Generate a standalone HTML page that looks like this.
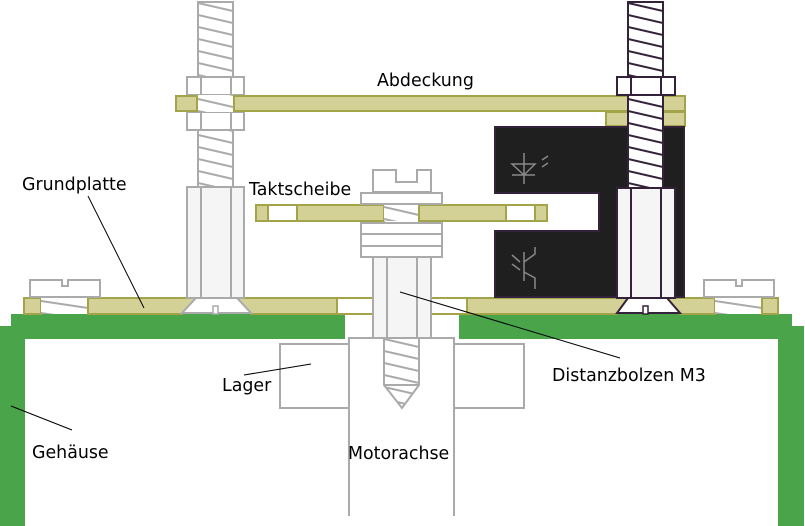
<!DOCTYPE html>
<html><head><meta charset="utf-8"><style>
html,body{margin:0;padding:0;background:#fff;}
svg{display:block;}
text{font-family:"DejaVu Sans","Liberation Sans",sans-serif;font-size:17.4px;fill:#000;}
</style></head><body>
<svg width="805" height="526" viewBox="0 0 805 526" xmlns="http://www.w3.org/2000/svg">
<defs>
<pattern id="thrA" x="198" y="0" width="35" height="12" patternUnits="userSpaceOnUse">
<rect width="35" height="12" fill="#fff"/>
<line x1="0" y1="3" x2="35" y2="11" stroke="#aaa" stroke-width="2"/>
</pattern>
<pattern id="thrC" x="384" y="0" width="35" height="12" patternUnits="userSpaceOnUse">
<rect width="35" height="12" fill="#fff"/>
<line x1="0" y1="3" x2="35" y2="11" stroke="#aaa" stroke-width="2"/>
</pattern>
<pattern id="thrL" x="41" y="298" width="47" height="12" patternUnits="userSpaceOnUse">
<rect width="47" height="12" fill="#fff"/>
<line x1="0" y1="3" x2="47" y2="10" stroke="#aaa" stroke-width="2"/>
</pattern>
<pattern id="thrR" x="715" y="298" width="47" height="12" patternUnits="userSpaceOnUse">
<rect width="47" height="12" fill="#fff"/>
<line x1="0" y1="3" x2="47" y2="10" stroke="#aaa" stroke-width="2"/>
</pattern>
<pattern id="thrd" x="628" y="0" width="35" height="12" patternUnits="userSpaceOnUse">
<rect width="35" height="12" fill="#fff"/>
<line x1="0" y1="3" x2="35" y2="11" stroke="#33223a" stroke-width="2"/>
</pattern>
</defs>
<g stroke-width="2">
<rect x="11" y="314" width="334" height="25" fill="#4aa54a"/>
<rect x="0" y="326" width="25" height="200" fill="#4aa54a"/>
<rect x="459" y="314" width="333" height="25" fill="#4aa54a"/>
<rect x="778" y="326" width="26" height="200" fill="#4aa54a"/>

<rect x="280" y="344" width="69" height="64" fill="#fff" stroke="#aaa"/>
<rect x="454" y="344" width="70" height="64" fill="#fff" stroke="#aaa"/>
<path d="M349 516 V338 H454 V516" fill="#fff" stroke="#aaa"/>
<path d="M384 338 V385 L402 408 L419 385 V338 Z" fill="url(#thrC)" stroke="#aaa"/>
<line x1="384" y1="385" x2="419" y2="385" stroke="#aaa"/>

<rect x="24" y="298" width="17" height="16" fill="#d4d197" stroke="#a3a34a"/>
<rect x="41" y="298" width="47" height="16" fill="url(#thrL)"/>
<path d="M88 298 H196 L182 314 H88 Z" fill="#d4d197" stroke="#a3a34a"/>
<path d="M237 298 H337 V314 H251 Z" fill="#d4d197" stroke="#a3a34a"/>
<rect x="337" y="298" width="130" height="16" fill="#fff" stroke="#a3a34a"/>
<path d="M467 298 H628 L617 314 H467 Z" fill="#d4d197" stroke="#a3a34a"/>
<path d="M667 298 H715 V314 H680 Z" fill="#d4d197" stroke="#a3a34a"/>
<rect x="715" y="298" width="47" height="16" fill="url(#thrR)"/>
<rect x="762" y="298" width="16" height="16" fill="#d4d197" stroke="#a3a34a"/>
<path d="M30 297 V280 H62 V286 H68 V280 H100 V297 Z" fill="#fff" stroke="#aaa"/>
<path d="M704 297 V280 H736 V286 H742 V280 H774 V297 Z" fill="#fff" stroke="#aaa"/>
<path d="M196 298 H237 L251 313 H182 Z" fill="#fff" stroke="#aaa"/>
<rect x="213" y="306" width="5" height="8" fill="#fff" stroke="#aaa" stroke-width="1.5"/>
<path d="M628 298 H667 L680 313 H617 Z" fill="#fff" stroke="#33223a"/>
<rect x="643" y="306" width="5" height="8" fill="#fff" stroke="#33223a" stroke-width="1.5"/>

<rect x="198" y="2" width="35" height="185" fill="url(#thrA)" stroke="#aaa"/>
<rect x="187" y="187" width="57" height="111" fill="#f5f5f5" stroke="#aaa"/>
<line x1="201" y1="187" x2="201" y2="298" stroke="#aaa"/><line x1="231" y1="187" x2="231" y2="298" stroke="#aaa"/>
<rect x="187" y="77" width="57" height="18" fill="#fff" stroke="#aaa"/>
<rect x="187" y="112" width="57" height="18" fill="#fff" stroke="#aaa"/>
<line x1="201" y1="77" x2="201" y2="130" stroke="#aaa"/><line x1="231" y1="77" x2="231" y2="130" stroke="#aaa"/>
<rect x="198" y="95" width="35" height="17" fill="url(#thrA)"/>

<rect x="176" y="96" width="21" height="15" fill="#d4d197" stroke="#a3a34a"/>
<rect x="234" y="96" width="394" height="15" fill="#d4d197" stroke="#a3a34a"/>
<rect x="663" y="96" width="22" height="15" fill="#d4d197" stroke="#a3a34a"/>
<rect x="606" y="112" width="22" height="14" fill="#d4d197" stroke="#a3a34a"/>
<rect x="663" y="112" width="22" height="14" fill="#d4d197" stroke="#a3a34a"/>

<path d="M495 127 H684 V297 H495 V231 H599 V193 H495 Z" fill="#1f1f1f" stroke="#33223a"/>
<g stroke="#888" fill="none" stroke-width="1.5">
<path d="M512 164 H535 L524 175 Z M524 153 V184 M512 175 H535"/>
<path d="M542 160 L548 156 M542 167 L548 163"/>
<path d="M524 252 V281 M524 262 L535 254 V247 M524 272 L535 278 V289"/>
<path d="M512 255 L520 262 M512 264 L520 270"/>
</g>

<rect x="628" y="2" width="35" height="186" fill="url(#thrd)" stroke="#33223a"/>
<rect x="617" y="77" width="58" height="18" fill="#fff" stroke="#33223a"/>
<line x1="631" y1="77" x2="631" y2="95" stroke="#33223a"/><line x1="661" y1="77" x2="661" y2="95" stroke="#33223a"/>
<rect x="617" y="188" width="58" height="110" fill="#f5f5f5" stroke="#33223a"/>
<line x1="631" y1="188" x2="631" y2="298" stroke="#33223a"/><line x1="661" y1="188" x2="661" y2="298" stroke="#33223a"/>

<rect x="256" y="205" width="12" height="16" fill="#d4d197" stroke="#a3a34a"/>
<rect x="268" y="205" width="29" height="16" fill="#fff" stroke="#a3a34a"/>
<rect x="297" y="205" width="87" height="16" fill="#d4d197" stroke="#a3a34a"/>
<rect x="384" y="205" width="35" height="16" fill="url(#thrC)"/>
<rect x="419" y="205" width="87" height="16" fill="#d4d197" stroke="#a3a34a"/>
<rect x="506" y="205" width="29" height="16" fill="#fff" stroke="#a3a34a"/>
<rect x="535" y="205" width="12" height="16" fill="#d4d197" stroke="#a3a34a"/>

<path d="M373 192 V170 H396 V182 H417 V170 H431 V192 Z" fill="#fff" stroke="#aaa"/>
<rect x="361" y="193" width="81" height="11" fill="#fff" stroke="#aaa"/>
<rect x="361" y="223" width="81" height="34" fill="#fff" stroke="#aaa"/>
<line x1="361" y1="234" x2="442" y2="234" stroke="#aaa"/><line x1="361" y1="246" x2="442" y2="246" stroke="#aaa"/>
<rect x="373" y="257" width="58" height="81" fill="#f5f5f5" stroke="#aaa"/>
<line x1="387" y1="257" x2="387" y2="338" stroke="#aaa"/><line x1="417" y1="257" x2="417" y2="338" stroke="#aaa"/>
</g>

<g stroke="#000" stroke-width="1">
<line x1="88" y1="196" x2="144" y2="308"/>
<line x1="244" y1="375" x2="311" y2="364"/>
<line x1="11" y1="406" x2="72" y2="430"/>
<line x1="400" y1="292" x2="620" y2="358"/>
</g>

<text x="377" y="86">Abdeckung</text>
<text x="22" y="190">Grundplatte</text>
<text x="249" y="195">Taktscheibe</text>
<text x="222" y="391">Lager</text>
<text x="552" y="381">Distanzbolzen M3</text>
<text x="32" y="458">Gehäuse</text>
<text x="348" y="459">Motorachse</text>
</svg>
</body></html>
